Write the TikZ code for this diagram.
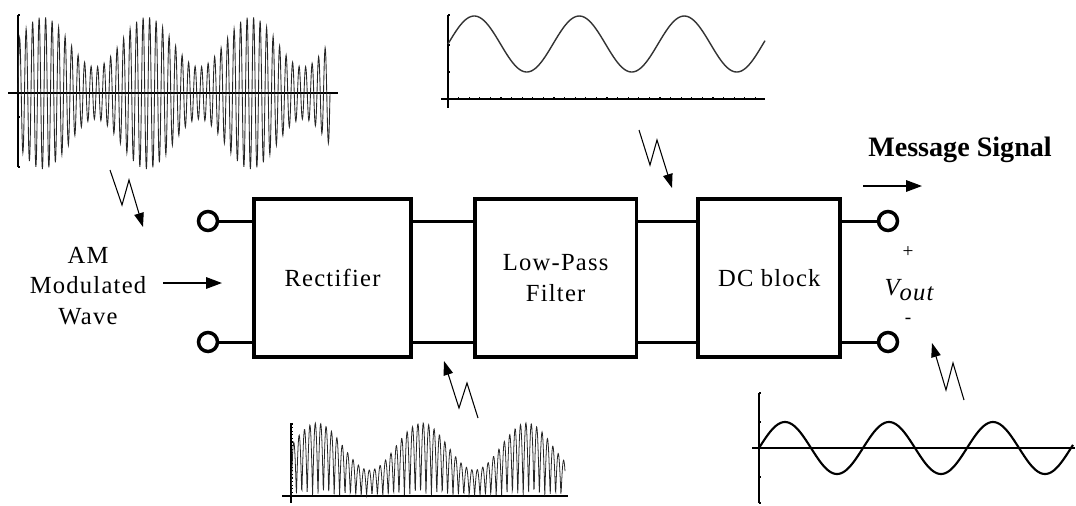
\documentclass[tikz,border=0pt]{standalone}
\usepackage{fontspec}
\setmainfont{Liberation Serif}
\usetikzlibrary{arrows.meta, positioning}

\begin{document}
\begin{tikzpicture}[x=0.02cm, y=-0.02cm,
  blk/.style={draw, line width=2.1pt, minimum height=3.16cm, align=center,
              font=\fontsize{14}{18}\selectfont\addfontfeature{LetterSpace=5}},
  term/.style={draw, circle, line width=2pt, minimum size=0.38cm, inner sep=0pt, fill=white},
  wire/.style={line width=1.7pt},
  lbl/.style={align=center, inner sep=1pt,
              font=\fontsize{14}{17.6}\selectfont\addfontfeature{LetterSpace=5}},
  sig/.style={-{Triangle[length=9pt, width=6.5pt]}, line width=0.85pt},
  zap/.style={-{Triangle[length=8pt, width=5.5pt]}, line width=0.6pt},
  axis/.style={line width=0.6pt},
  wave/.style={line width=0.5pt, black!85},
  sine/.style={line width=0.8pt, black!80}
]
  \useasboundingbox (0,0) rectangle (1076,505);

  % the three blocks, left to right
  \node[blk, minimum width=3.14cm] (rect) at (332.5,278) {Rectifier};
  \node[blk, minimum width=3.24cm, right=1.2cm of rect] (lpf) {Low-Pass\\Filter};
  \node[blk, minimum width=2.84cm, right=1.16cm of lpf]  (dcb) {DC block};

  % terminals
  \node[term] (inT)  at (208,221) {};
  \node[term] (inB)  at (208,342) {};
  \node[term] (outT) at (888,221) {};
  \node[term] (outB) at (888,342) {};

  \draw[wire] (inT) -- (inT -| rect.west);
  \draw[wire] (inB) -- (inB -| rect.west);
  \draw[wire] (rect.east |- inT) -- (lpf.west |- inT);
  \draw[wire] (rect.east |- inB) -- (lpf.west |- inB);
  \draw[wire] (lpf.east |- inT) -- (dcb.west |- inT);
  \draw[wire] (lpf.east |- inB) -- (dcb.west |- inB);
  \draw[wire] (dcb.east |- outT) -- (outT);
  \draw[wire] (dcb.east |- outB) -- (outB);

  % labels
  \node[lbl] (am) at (88,286) {AM\\Modulated\\Wave};
  \node[font=\fontsize{16}{19}\selectfont\bfseries] (msg) at (960,150) {Message Signal};
  \node[font=\fontsize{11}{12}\selectfont] (plus) at (908,252) {+};
  \node[lbl] (vout) at (909,290) {\itshape V\raisebox{-0.45ex}{out}};
  \node[font=\fontsize{11}{12}\selectfont] (minus) at (908,321) {-};

  \coordinate (amA) at (163,283);
  \coordinate (amB) at (222,283);
  \draw[sig] (amA) -- (amB);
  \coordinate (msA) at (863,186);
  \coordinate (msB) at (922,186);
  \draw[sig] (msA) -- (msB);

  % zigzag pointers
  \coordinate (z1) at (110,170);
  \coordinate (z2) at (639,130);
  \coordinate (z3) at (478,418);
  \coordinate (z4) at (964,400);
  \draw[zap] (z1) -- ++(12,35) -- ++(7,-25) -- ++(14,47);
  \draw[zap] (z2) -- ++(11,35) -- ++(7,-25) -- ++(15,48);
  \draw[zap] (z3) -- ++(-11,-35) -- ++(-8,25) -- ++(-15,-47);
  \draw[zap] (z4) -- ++(-11,-37) -- ++(-7,27) -- ++(-14,-47);

  % AM input wave
  \begin{scope}[shift={(18,93)}]
    \draw[axis] (-10,0) -- (320,0);
    \draw[axis] (0,-78) -- (0,74);
    \foreach \t in {-78,-51,24,74} \draw[axis] (0,\t) -- (2,\t);
    \foreach \t in {10,20,...,310} \draw[axis] (\t,-1) -- (\t,1);
    \draw[wave] plot[domain=0:312, samples=961]
      (\x, {-(51+25*cos(3.4615*(\x-25)))*sin(55.385*mod(\x,6.5))});
  \end{scope}

  % after the low-pass filter
  \begin{scope}[shift={(448,99)}]
    \draw[axis] (-7,0) -- (317,0);
    \draw[axis] (0,-84) -- (0,9);
    \foreach \t in {-84,-54,-27} \draw[axis] (0,\t) -- (2,\t);
    \foreach \t in {10.6,21.2,...,317} \draw[axis] (\t,0) -- (\t,-2);
    \draw[sine] plot[domain=0:317, samples=200] (\x, {-55-28*sin(3.4286*\x)});
  \end{scope}

  % after the rectifier
  \begin{scope}[shift={(291,496)}]
    \draw[axis] (-9,0) -- (277,0);
    \draw[axis] (0,-73) -- (0,7);
    \foreach \t in {3.6,7.2,...,72} \draw[axis] (0,-\t) -- (2,-\t);
    \draw[wave, line width=0.45pt] plot[domain=0:274, samples=801]
      (\x, {-(49.5+23.5*cos(3.4286*(\x-26)))*abs(sin(33.333*mod(\x,10.8)))});
  \end{scope}

  % message at the output
  \begin{scope}[shift={(759,448)}]
    \draw[axis, line width=1pt] (-7,0) -- (316,0);
    \draw[axis, line width=1pt] (0,-55) -- (0,55);
    \foreach \t in {-55,-26,29,55} \draw[axis] (0,\t) -- (2,\t);
    \draw[sine, line width=1.2pt, black] plot[domain=0:314, samples=200] (\x, {-26*sin(3.4615*\x)});
  \end{scope}
\end{tikzpicture}
\end{document}
